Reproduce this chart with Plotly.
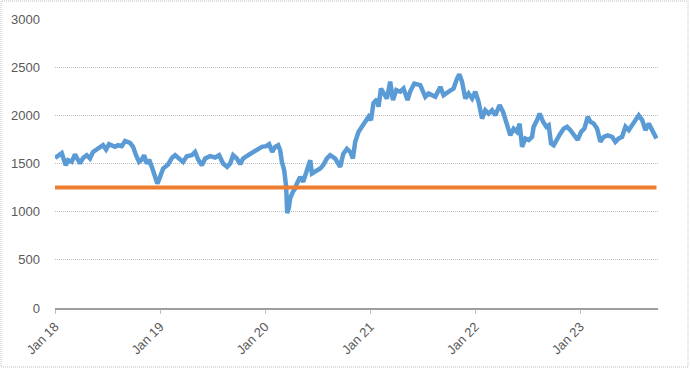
import pandas as pd
import plotly.graph_objects as go

# time in decimal years
years = [
    2018.000, 2018.064, 2018.102, 2018.124, 2018.159, 2018.190, 2018.238, 2018.267, 2018.302, 2018.333,
    2018.362, 2018.410, 2018.457, 2018.486, 2018.514, 2018.571, 2018.600, 2018.635, 2018.667, 2018.714,
    2018.743, 2018.771, 2018.800, 2018.826, 2018.848, 2018.873, 2018.895, 2018.921, 2018.952, 2018.974,
    2019.000, 2019.029, 2019.076, 2019.114, 2019.143, 2019.190, 2019.219, 2019.254, 2019.302, 2019.333,
    2019.362, 2019.397, 2019.429, 2019.476, 2019.524, 2019.562, 2019.600, 2019.638, 2019.667, 2019.695,
    2019.730, 2019.762, 2019.790, 2019.838, 2019.886, 2019.924, 2019.969, 2020.010, 2020.038, 2020.067,
    2020.095, 2020.124, 2020.143, 2020.159, 2020.181, 2020.200, 2020.210, 2020.224, 2020.238, 2020.264,
    2020.286, 2020.302, 2020.333, 2020.362, 2020.397, 2020.429, 2020.445, 2020.476, 2020.524, 2020.552,
    2020.588, 2020.619, 2020.667, 2020.714, 2020.743, 2020.778, 2020.810, 2020.835, 2020.857, 2020.889,
    2020.921, 2020.952, 2020.984, 2021.007, 2021.031, 2021.064, 2021.079, 2021.102, 2021.133, 2021.159,
    2021.190, 2021.216, 2021.248, 2021.286, 2021.317, 2021.355, 2021.381, 2021.419, 2021.476, 2021.524,
    2021.555, 2021.588, 2021.619, 2021.667, 2021.698, 2021.746, 2021.793, 2021.826, 2021.848, 2021.873,
    2021.905, 2021.936, 2021.969, 2022.000, 2022.031, 2022.064, 2022.095, 2022.127, 2022.159, 2022.190,
    2022.231, 2022.264, 2022.302, 2022.333, 2022.365, 2022.397, 2022.422, 2022.445, 2022.476, 2022.508,
    2022.540, 2022.555, 2022.588, 2022.612, 2022.645, 2022.676, 2022.698, 2022.721, 2022.746, 2022.778,
    2022.810, 2022.841, 2022.873, 2022.905, 2022.936, 2022.974, 2023.007, 2023.038, 2023.070, 2023.095,
    2023.127, 2023.159, 2023.190, 2023.222, 2023.260, 2023.302, 2023.333, 2023.365, 2023.397, 2023.429,
    2023.460, 2023.492, 2023.524, 2023.555, 2023.588, 2023.619, 2023.651, 2023.683, 2023.714, 2023.724,
]
index_values = [
    1558, 1607, 1482, 1534, 1517, 1594, 1500, 1558, 1586, 1552,
    1620, 1649, 1690, 1645, 1700, 1673, 1690, 1680, 1734, 1714,
    1673, 1586, 1517, 1541, 1586, 1500, 1541, 1465, 1361, 1292,
    1361, 1448, 1490, 1560, 1586, 1541, 1517, 1576, 1586, 1620,
    1541, 1482, 1552, 1576, 1562, 1586, 1500, 1465, 1500, 1586,
    1552, 1493, 1552, 1586, 1620, 1638, 1673, 1680, 1700, 1620,
    1673, 1690, 1638, 1517, 1430, 1258, 985, 1033, 1137, 1206,
    1241, 1292, 1361, 1310, 1430, 1534, 1396, 1413, 1448, 1482,
    1552, 1586, 1552, 1465, 1600, 1652, 1620, 1552, 1725, 1829,
    1881, 1933, 1985, 1950, 2125, 2166, 2090, 2278, 2226, 2174,
    2350, 2158, 2262, 2245, 2278, 2158, 2250, 2330, 2313, 2192,
    2226, 2209, 2192, 2295, 2209, 2245, 2278, 2382, 2427, 2350,
    2174, 2226, 2174, 2245, 2140, 1966, 2053, 2019, 2053, 2000,
    2107, 2036, 1896, 1792, 1862, 1829, 1914, 1673, 1760, 1744,
    1777, 1881, 1950, 2019, 1933, 1881, 1896, 1708, 1690, 1760,
    1812, 1862, 1881, 1846, 1792, 1744, 1829, 1862, 1985, 1933,
    1914, 1862, 1725, 1777, 1792, 1777, 1725, 1760, 1777, 1881,
    1846, 1896, 1950, 2000, 1950, 1846, 1914, 1846, 1777, 1760,
]
threshold_years = [2018.000, 2023.724]
threshold_values = [1250, 1250]

y_ticks = [0, 500, 1000, 1500, 2000, 2500, 3000]
x_tick_dates = ["2018-01-01", "2019-01-01", "2020-01-01", "2021-01-01", "2022-01-01", "2023-01-01"]
x_tick_labels = ["Jan 18", "Jan 19", "Jan 20", "Jan 21", "Jan 22", "Jan 23"]


def to_dates(ys):
    base = pd.Timestamp("2018-01-01")
    return [base + pd.Timedelta(days=(y - 2018) * 365.25) for y in ys]


fig = go.Figure()
fig.add_trace(go.Scatter(
    x=to_dates(years), y=index_values, mode="lines",
    line=dict(color="#5B9BD5", width=4.5), hoverinfo="skip", showlegend=False,
))
fig.add_trace(go.Scatter(
    x=to_dates(threshold_years), y=threshold_values, mode="lines",
    line=dict(color="#ED7D31", width=4), hoverinfo="skip", showlegend=False,
))

W, H = 691, 369
ml, mr, mt, mb = 55, 33, 19, 61
pw, ph = W - ml - mr, H - mt - mb

fig.update_layout(
    width=W, height=H,
    margin=dict(l=ml, r=mr, t=mt, b=mb, pad=0, autoexpand=False),
    paper_bgcolor="white", plot_bgcolor="white",
    font=dict(family="Liberation Sans, Arial, sans-serif", size=13, color="#595959"),
    xaxis=dict(
        type="date", automargin=False,
        range=["2018-01-01", "2023-09-28"],
        tickvals=x_tick_dates, ticktext=x_tick_labels,
        tickangle=-45,
        showgrid=False,
        showline=True, linecolor="#9E9E9E", linewidth=2,
        ticks="outside", ticklen=4, tickcolor="#BFBFBF", tickwidth=1,
        zeroline=False,
        tickfont=dict(size=13, color="#595959"),
    ),
    yaxis=dict(
        range=[0, 3000], automargin=False,
        tickvals=y_ticks,
        showgrid=True, gridcolor="#BDBDBD", gridwidth=1, griddash="1px,1px",
        zeroline=False, showline=False,
        ticks="", ticklabelstandoff=14,
        tickfont=dict(size=13, color="#595959"),
    ),
    shapes=[dict(
        type="rect", xref="paper", yref="paper",
        x0=(-ml + 1) / pw, x1=(pw + mr - 3) / pw,
        y0=(-mb + 2) / ph, y1=(ph + mt - 1) / ph,
        line=dict(color="#BFBFBF", width=1, dash="1px,1px"),
        fillcolor="rgba(0,0,0,0)", layer="below",
    )],
)

fig.write_html(
    "out.html",
    config={"displayModeBar": False},
    post_script="document.body.style.margin='0';document.body.style.overflow='hidden';",
)
